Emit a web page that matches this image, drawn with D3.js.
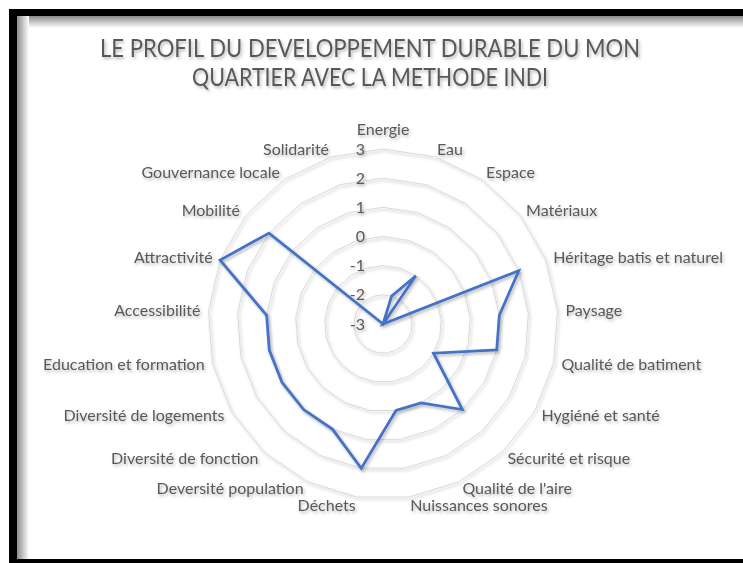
<!DOCTYPE html>
<html>
<head>
<meta charset="utf-8">
<script src="https://cdn.jsdelivr.net/npm/d3@7"></script>
<style>
  body { margin: 0; background: #fff; }
  text { font-family: Lato, "Open Sans", sans-serif; fill: #595959; }
</style>
</head>
<body>
<div id="chart"></div>
<script>
const categories = ["Energie", "Eau", "Espace", "Matériaux", "Héritage batis et naturel", "Paysage",
  "Qualité de batiment", "Hygiéné et santé", "Sécurité et risque", "Qualité de l'aire",
  "Nuissances sonores", "Déchets", "Deversité population", "Diversité de fonction",
  "Diversité de logements", "Education et formation", "Accessibilité", "Attractivité",
  "Mobilité", "Gouvernance locale", "Solidarité"];
const scores = [-3, -2, -1, -3, 2, 1, 1, -1, 1, 0, 0, 2, 1, 1, 1, 1, 1, 3, 2, -3, -3];
const ringTicks = [-3, -2, -1, 0, 1, 2, 3];
const titleLines = ["LE PROFIL DU DEVELOPPEMENT DURABLE DU MON", "QUARTIER AVEC LA METHODE INDI"];

const W = 743, H = 563;
const cx = 383, cy = 324, R = 175;

const svg = d3.select("#chart").append("svg")
    .attr("width", W)
    .attr("height", H);

const defs = svg.append("defs");
const shadow = defs.append("filter").attr("id", "shadow")
    .attr("x", "-10%").attr("y", "-30%").attr("width", "130%").attr("height", "170%");
shadow.append("feDropShadow")
    .attr("dx", 1.5).attr("dy", 2).attr("stdDeviation", 1.8)
    .attr("flood-color", "#000").attr("flood-opacity", 0.28);

// frame: black border on top / left / bottom with an inner shade
const gTop = defs.append("linearGradient").attr("id", "shadeTop")
    .attr("x1", 0).attr("y1", 0).attr("x2", 0).attr("y2", 1);
gTop.append("stop").attr("offset", "0%").attr("stop-color", "#8c8c8c");
gTop.append("stop").attr("offset", "100%").attr("stop-color", "#fff");
const gLeft = defs.append("linearGradient").attr("id", "shadeLeft")
    .attr("x1", 0).attr("y1", 0).attr("x2", 1).attr("y2", 0);
gLeft.append("stop").attr("offset", "0%").attr("stop-color", "#8c8c8c");
gLeft.append("stop").attr("offset", "100%").attr("stop-color", "#fff");

svg.append("rect").attr("width", W).attr("height", H).attr("fill", "#fff");
svg.append("rect").attr("x", 17).attr("y", 16).attr("width", W - 17).attr("height", 12).attr("fill", "url(#shadeTop)");
svg.append("rect").attr("x", 17).attr("y", 16).attr("width", 12).attr("height", H - 16).attr("fill", "url(#shadeLeft)");
svg.append("rect").attr("x", 9).attr("y", 9).attr("width", W - 9).attr("height", 7).attr("fill", "#000");
svg.append("rect").attr("x", 9).attr("y", 9).attr("width", 8).attr("height", H - 9).attr("fill", "#000");
svg.append("rect").attr("x", 9).attr("y", 559).attr("width", W - 9).attr("height", 4).attr("fill", "#000");

// title
svg.selectAll(".title").data(titleLines).enter()
    .append("text")
    .attr("class", "title")
    .attr("x", 370)
    .attr("y", (d, i) => 57 + i * 29)
    .attr("text-anchor", "middle")
    .attr("textLength", (d, i) => i === 0 ? 540 : 356)
    .attr("lengthAdjust", "spacingAndGlyphs")
    .style("font-size", "25px")
    .attr("filter", "url(#shadow)")
    .text(d => d);

const rScale = d3.scaleLinear().domain([-3, 3]).range([0, R]);
const aScale = d3.scaleLinear().domain([0, categories.length]).range([0, 2 * Math.PI]);

const g = svg.append("g").attr("transform", `translate(${cx}, ${cy})`);

// rings
const ring = d3.lineRadial()
    .angle((d, i) => aScale(i))
    .radius(d => rScale(d))
    .curve(d3.curveLinearClosed);

g.selectAll(".ring").data(ringTicks.slice(1)).enter()
    .append("path")
    .attr("class", "ring")
    .attr("d", t => ring(categories.map(() => t)))
    .attr("fill", "none")
    .attr("stroke", "#d9d9d9")
    .attr("stroke-width", 1)
    .attr("filter", "url(#shadow)");

// ring labels
g.selectAll(".tick").data(ringTicks).enter()
    .append("text")
    .attr("class", "tick")
    .attr("x", -18)
    .attr("y", t => -rScale(t))
    .attr("dy", "0.35em")
    .attr("text-anchor", "end")
    .style("font-size", "16px")
    .attr("filter", "url(#shadow)")
    .text(t => t);

// data line
const line = d3.lineRadial()
    .angle((d, i) => aScale(i))
    .radius(d => rScale(d))
    .curve(d3.curveLinearClosed);

g.append("path")
    .datum(scores)
    .attr("d", line)
    .attr("fill", "none")
    .attr("stroke", "#4472c4")
    .attr("stroke-width", 2.75)
    .attr("stroke-linejoin", "miter")
    .attr("filter", "url(#shadow)");

// category labels
const labelR = R + 8;
g.selectAll(".cat").data(categories).enter()
    .append("text")
    .attr("class", "cat")
    .attr("x", (d, i) => labelR * Math.sin(aScale(i)))
    .attr("y", (d, i) => i === 0 ? -labelR - 6 : -labelR * Math.cos(aScale(i)))
    .attr("dy", (d, i) => i === 0 ? "0" : "0.35em")
    .attr("text-anchor", (d, i) => {
        const s = Math.sin(aScale(i));
        return Math.abs(s) < 0.01 ? "middle" : (s > 0 ? "start" : "end");
    })
    .style("font-size", "16px")
    .attr("filter", "url(#shadow)")
    .text(d => d);
</script>
</body>
</html>
